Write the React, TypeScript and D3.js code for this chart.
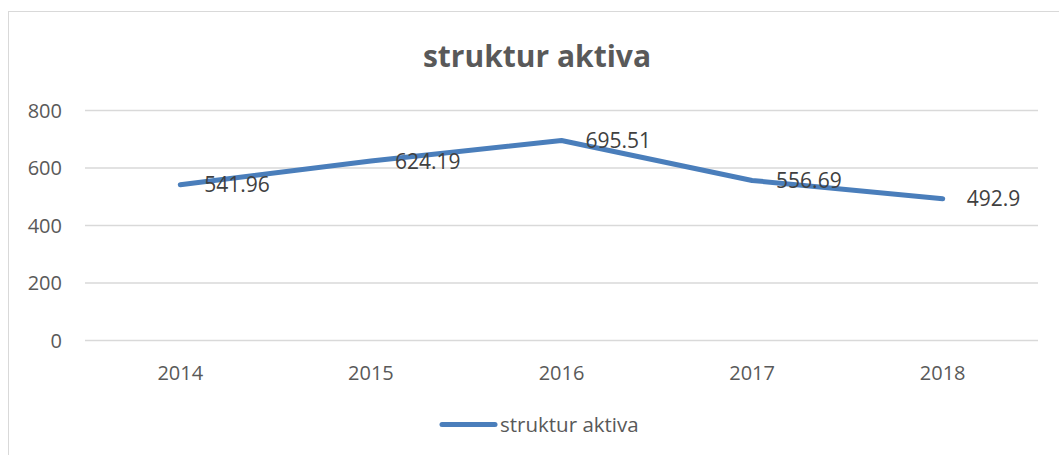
import React from "react";
import * as d3 from "d3";

const categories = ["2014", "2015", "2016", "2017", "2018"];
const values = [541.96, 624.19, 695.51, 556.69, 492.9];
const yTicks = [0, 200, 400, 600, 800];
const seriesName = "struktur aktiva";
const titleText = "struktur aktiva";

export default function App() {
  const W = 1059;
  const H = 455;
  const plotLeft = 85;
  const plotRight = 1038;
  const x = d3.scaleBand<string>().domain(categories).range([plotLeft, plotRight]);
  const y = d3.scaleLinear().domain([0, 800]).range([340.5, 110.5]);
  const line = d3
    .line<number>()
    .x((_, i) => (x(categories[i]) as number) + x.bandwidth() / 2)
    .y((d) => y(d));
  const font = "'Open Sans', sans-serif";
  return (
    <svg
      width={W}
      height={H}
      style={{ position: "absolute", left: 0, top: 0, background: "#fff" }}
      fontFamily={font}
    >
      <rect x={8.5} y={11.5} width={W + 10} height={H + 10} fill="#fff" stroke="#d9d9d9" strokeWidth={1} />
      <text x={537} y={67} textAnchor="middle" fontSize={30} fontWeight="bold" fill="#595959">
        {titleText}
      </text>
      {yTicks.map((t) => (
        <g key={t}>
          <line x1={plotLeft} x2={plotRight} y1={y(t)} y2={y(t)} stroke="#d9d9d9" strokeWidth={1.3} />
          <text x={62} y={y(t)} dy="0.36em" textAnchor="end" fontSize={20} fill="#595959">
            {t}
          </text>
        </g>
      ))}
      {categories.map((c) => (
        <text key={c} x={(x(c) as number) + x.bandwidth() / 2} y={380} textAnchor="middle" fontSize={20} fill="#595959">
          {c}
        </text>
      ))}
      <path d={line(values) || ""} fill="none" stroke="#4a7ebb" strokeWidth={5} strokeLinecap="round" strokeLinejoin="round" />
      {values.map((v, i) => (
        <text
          key={i}
          x={(x(categories[i]) as number) + x.bandwidth() / 2 + 24}
          y={y(v)}
          dy="0.36em"
          fontSize={21}
          fill="#404040"
        >
          {String(v)}
        </text>
      ))}
      <line x1={442} x2={495} y1={424.5} y2={424.5} stroke="#4a7ebb" strokeWidth={5} strokeLinecap="round" />
      <text x={500} y={432} fontSize={20.5} fill="#595959">
        {seriesName}
      </text>
    </svg>
  );
}
